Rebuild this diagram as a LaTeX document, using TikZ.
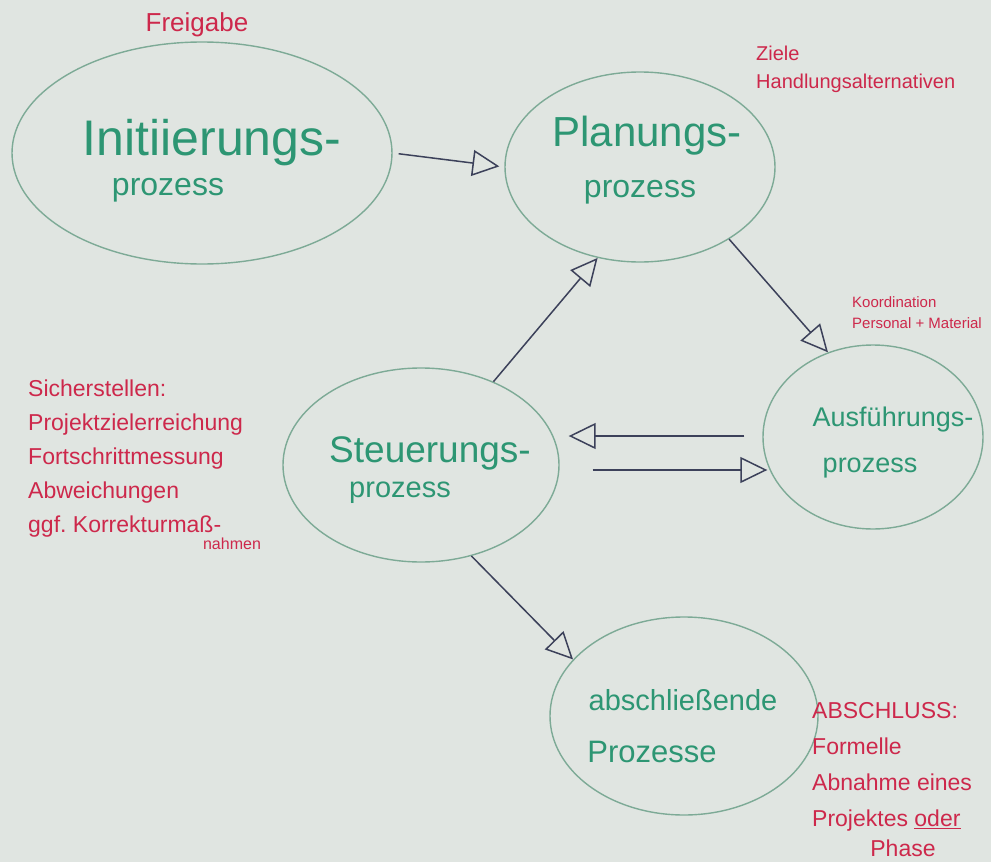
\documentclass[tikz,border=0pt]{standalone}
\usepackage{fontspec}
\setmainfont{Liberation Sans}
\usetikzlibrary{arrows.meta,shapes.geometric}
\definecolor{paper}{RGB}{224,229,225}
\definecolor{penred}{RGB}{205,40,75}
\definecolor{pengreen}{RGB}{45,150,115}
\definecolor{ringgreen}{RGB}{125,170,150}
\definecolor{pendark}{RGB}{60,65,90}
\newcommand\fsz[2]{\fontsize{#1}{#2}\selectfont}
\begin{document}
\begin{tikzpicture}[x=1pt,y=-1pt,
  proc/.style={ellipse, draw=ringgreen, line width=1.4pt, inner sep=0pt},
  lbl/.style={text=pengreen, inner sep=0pt},
  note/.style={text=penred, inner sep=0pt, align=left},
  arr/.style={draw=pendark, line width=1.5pt,
    -{Triangle[open, length=27pt, width=26pt, line width=1.5pt]}}]
\fill[paper] (0,0) rectangle (991,862);
\useasboundingbox (0,0) rectangle (991,862);

% process ellipses
\node[proc, minimum width=380pt, minimum height=222pt] (init) at (202,153) {};
\node[proc, minimum width=270pt, minimum height=190pt] (plan) at (640,167) {};
\node[proc, minimum width=220pt, minimum height=184pt] (ausf) at (873,437) {};
\node[proc, minimum width=276pt, minimum height=194pt] (steu) at (421,465) {};
\node[proc, minimum width=268pt, minimum height=198pt] (absc) at (684,716) {};

% process labels
\node[lbl, font=\fsz{50pt}{56pt}] (initA) at (212,143) {Initiierungs-};
\node[lbl, font=\fsz{32pt}{38pt}] (initB) at (168,190) {prozess};
\node[lbl, font=\fsz{42pt}{48pt}] (planA) at (647,136) {Planungs-};
\node[lbl, font=\fsz{32pt}{38pt}] (planB) at (640,192) {prozess};
\node[lbl, font=\fsz{37pt}{44pt}] (steuA) at (430,453) {Steuerungs-};
\node[lbl, font=\fsz{29pt}{35pt}] (steuB) at (400,493) {prozess};
\node[lbl, font=\fsz{27pt}{33pt}] (ausfA) at (893,420) {Ausführungs-};
\node[lbl, font=\fsz{27pt}{33pt}] (ausfB) at (870,468) {prozess};
\node[lbl, font=\fsz{29pt}{35pt}] (abscA) at (683,700) {abschließende};
\node[lbl, font=\fsz{31pt}{37pt}] (abscB) at (652,752) {Prozesse};

% connectors
\draw[arr, shorten <=6pt, shorten >=5pt] (init.east) -- (plan.west);
\draw[arr] (plan.-39) -- (ausf.118);
\draw[arr] (steu.49) -- (plan.245);
\draw[arr, shorten <=18pt, shorten >=9pt] ([yshift=1pt]ausf.west) -- ([yshift=1pt]ausf.west -| steu.east);
\draw[arr, shorten <=33pt, shorten >=-5pt] ([yshift=-5pt]steu.east) -- ([yshift=-5pt]steu.east -| ausf.west);
\draw[arr] (steu.-61) -- (absc.153);

% red notes
\node[note, font=\fsz{26pt}{30pt}] (freig) at (197,25) {Freigabe};
\node[note, font=\fsz{20pt}{28pt}, anchor=north west] (ziele) at (756,46) {Ziele\\Handlungsalternativen};
\node[note, font=\fsz{15pt}{21pt}, anchor=north west] (koord) at (852,296) {Koordination\\Personal + Material};
\node[note, font=\fsz{23pt}{34pt}, anchor=north west] (sicher) at (28,380) {Sicherstellen:\\Projektzielerreichung\\Fortschrittmessung\\Abweichungen\\ggf.\ Korrekturmaß-};
\node[note, font=\fsz{16pt}{18pt}] (nahmen) at (232,544) {nahmen};
\node[note, font=\fsz{23pt}{36pt}, anchor=north west] (abschl) at (812,702) {ABSCHLUSS:\\Formelle\\Abnahme eines\\Projektes \underline{oder}};
\node[note, font=\fsz{23pt}{28pt}] (phase) at (903,848) {Phase};
\end{tikzpicture}
\end{document}
